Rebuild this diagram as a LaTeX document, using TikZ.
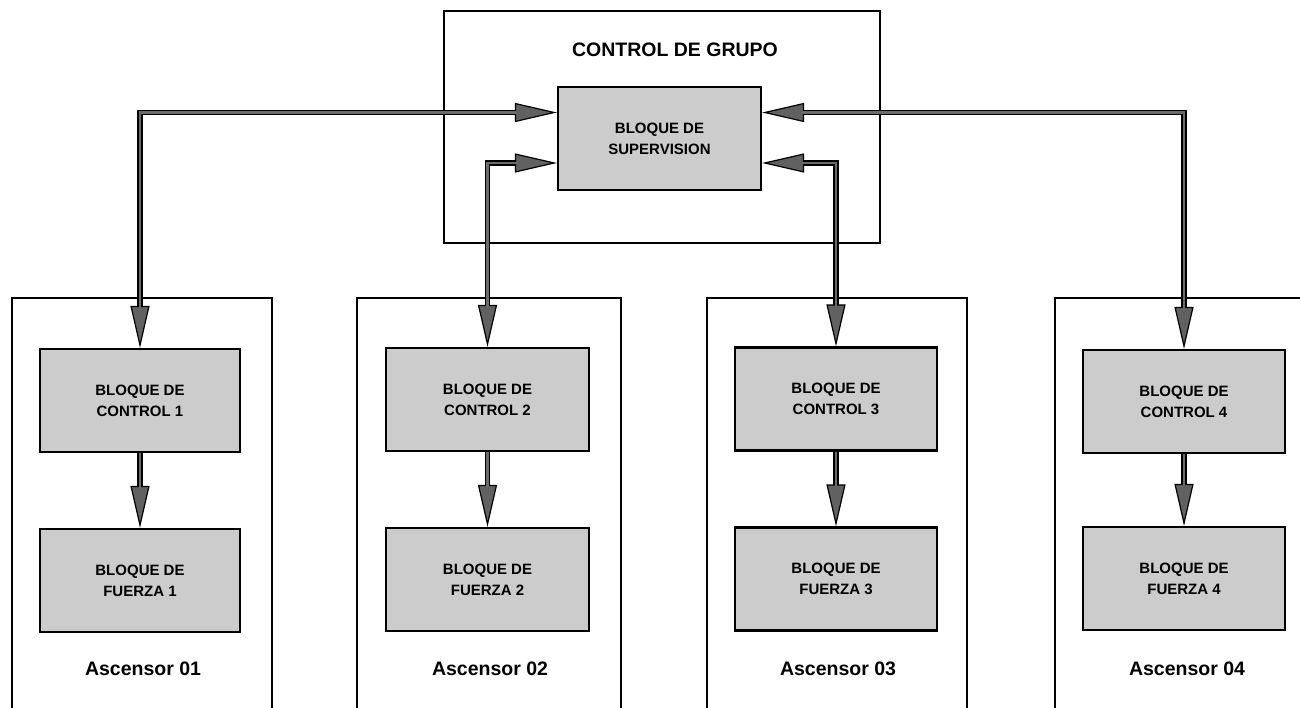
\documentclass[tikz,border=0pt]{standalone}
\usepackage{fontspec}
\setmainfont{Liberation Sans}
\usetikzlibrary{arrows.meta}

\tikzset{
  blockbox/.style={draw=black, line width=2.2pt, fill=gray!40,
    minimum width=202pt, minimum height=103pt, inner sep=0pt,
    align=center, font=\fontsize{15}{21}\selectfont\bfseries},
  framebox/.style={draw=black, line width=2pt},
  titletext/.style={font=\fontsize{19.5}{22}\selectfont\bfseries, inner sep=0pt},
  tipshape/.tip={Triangle[length=42pt, width=19pt, line width=1.2pt, fill=black!62]},
  conn/.style={draw=black, line width=5.5pt, line join=miter,
    postaction={draw=black!58, line width=2.8pt, arrows=-,
      shorten <=40pt, shorten >=40pt}},
  connboth/.style={conn, tipshape-tipshape},
  connone/.style={draw=black, line width=5.5pt, -tipshape,
    postaction={draw=black!58, line width=2.8pt, arrows=-, shorten >=40pt}},
}

\begin{document}
\begin{tikzpicture}[x=1pt, y=-1pt]
\useasboundingbox (0,0) rectangle (1300,708);

% group controller frame
\node[framebox, line width=2.4pt, minimum width=436pt, minimum height=232pt,
  inner sep=0pt] (grp) at (662,127) {};
\node[titletext] (grptitle) at (675,50) {CONTROL DE GRUPO};
\node[blockbox, minimum width=203pt] (sup) at (659.5,138.5)
  {BLOQUE DE\\SUPERVISION};

% elevator frames (open at the bottom)
\draw[framebox] (12,720) -- (12,298) -- (272,298) -- (272,720);
\draw[framebox] (357,720) -- (357,298) -- (621,298) -- (621,720);
\draw[framebox] (707,720) -- (707,298) -- (967,298) -- (967,720);
\draw[framebox] (1055,720) -- (1055,298) -- (1310,298);

% control and power blocks
\node[blockbox, minimum width=200pt] (ctl1) at (140,400.5) {BLOQUE DE\\CONTROL 1};
\node[blockbox, minimum width=200pt] (fz1) at (140,580.5) {BLOQUE DE\\FUERZA 1};
\node[blockbox, minimum width=203pt] (ctl2) at (487.5,399.5) {BLOQUE DE\\CONTROL 2};
\node[blockbox, minimum width=203pt] (fz2) at (487.5,579.5) {BLOQUE DE\\FUERZA 2};
\node[blockbox, minimum width=202pt] (ctl3) at (836,399) {BLOQUE DE\\CONTROL 3};
\node[blockbox, minimum width=202pt] (fz3) at (836,579) {BLOQUE DE\\FUERZA 3};
\node[blockbox, minimum width=202pt] (ctl4) at (1184,401.5) {BLOQUE DE\\CONTROL 4};
\node[blockbox, minimum width=202pt] (fz4) at (1184,578.5) {BLOQUE DE\\FUERZA 4};

% elevator labels
\node[titletext] (lab1) at (143,669) {Ascensor 01};
\node[titletext] (lab2) at (490,669) {Ascensor 02};
\node[titletext] (lab3) at (838,669) {Ascensor 03};
\node[titletext] (lab4) at (1187,669) {Ascensor 04};

% bus levels
\coordinate (yhi) at (0,112.5);
\coordinate (ylo) at (0,163);

% supervision <-> elevator control links
\draw[connboth] (sup.west |- yhi) -- (ctl1.north |- yhi) -- (ctl1.north);
\draw[connboth] (sup.west |- ylo) -- (ctl2.north |- ylo) -- (ctl2.north);
\draw[connboth] (sup.east |- ylo) -- (ctl3.north |- ylo) -- (ctl3.north);
\draw[connboth] (sup.east |- yhi) -- (ctl4.north |- yhi) -- (ctl4.north);

% control -> power
\draw[connone] (ctl1.south) -- (fz1.north);
\draw[connone] (ctl2.south) -- (fz2.north);
\draw[connone] (ctl3.south) -- (fz3.north);
\draw[connone] (ctl4.south) -- (fz4.north);
\end{tikzpicture}
\end{document}
